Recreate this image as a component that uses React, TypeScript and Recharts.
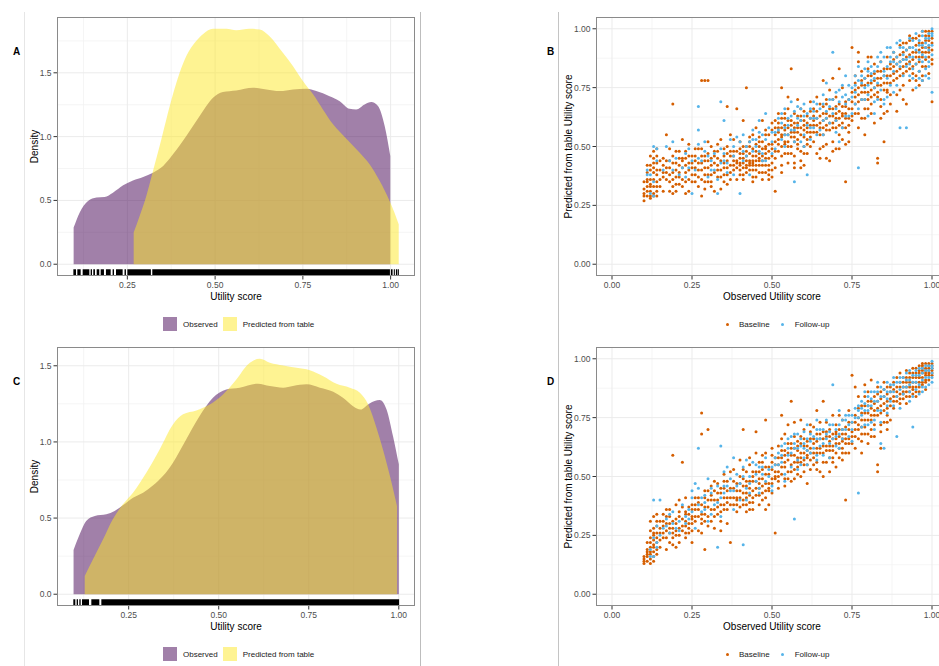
import React from 'react';
import { ComposedChart, ScatterChart, Area, Scatter, XAxis, YAxis, CartesianGrid, ReferenceArea } from 'recharts';

const FONT = '"Liberation Sans", Arial, Helvetica, sans-serif';

const PURPLE = '#440154';
const YELLOW = '#FDE725';
const ORANGE = '#D55E00';
const BLUE = '#56B4E9';

const obsA: [number, number][] = [[0.097,0.287],[0.114,0.404],[0.138,0.496],[0.162,0.522],[0.185,0.527],[0.209,0.561],[0.238,0.618],[0.266,0.657],[0.295,0.684],[0.323,0.717],[0.352,0.77],[0.38,0.861],[0.418,1.004],[0.456,1.161],[0.494,1.304],[0.522,1.349],[0.56,1.362],[0.608,1.383],[0.646,1.37],[0.684,1.357],[0.722,1.37],[0.76,1.375],[0.788,1.357],[0.826,1.317],[0.855,1.278],[0.883,1.218],[0.902,1.213],[0.926,1.252],[0.945,1.271],[0.964,1.239],[0.983,1.083],[0.999,0.848]];
const predA: [number, number][] = [[0.268,0.248],[0.285,0.378],[0.304,0.535],[0.323,0.73],[0.342,0.926],[0.361,1.135],[0.38,1.331],[0.399,1.5],[0.418,1.631],[0.442,1.735],[0.466,1.805],[0.494,1.845],[0.532,1.845],[0.56,1.834],[0.598,1.845],[0.627,1.839],[0.655,1.787],[0.693,1.657],[0.722,1.552],[0.75,1.435],[0.779,1.331],[0.807,1.213],[0.836,1.096],[0.874,0.984],[0.912,0.874],[0.94,0.783],[0.969,0.652],[0.997,0.496],[1.011,0.404],[1.023,0.313]];
const obsC: [number, number][] = [[0.097,0.291],[0.114,0.394],[0.132,0.481],[0.156,0.514],[0.188,0.525],[0.211,0.547],[0.234,0.584],[0.262,0.634],[0.29,0.667],[0.318,0.715],[0.345,0.776],[0.373,0.864],[0.41,1.017],[0.447,1.17],[0.484,1.29],[0.521,1.345],[0.558,1.356],[0.609,1.382],[0.642,1.367],[0.679,1.356],[0.706,1.367],[0.744,1.378],[0.781,1.356],[0.818,1.329],[0.845,1.29],[0.873,1.235],[0.894,1.213],[0.919,1.253],[0.947,1.275],[0.966,1.213],[0.984,1.038],[1.0,0.853]];
const predC: [number, number][] = [[0.128,0.12],[0.151,0.23],[0.179,0.361],[0.206,0.492],[0.234,0.59],[0.262,0.667],[0.299,0.798],[0.336,0.951],[0.373,1.115],[0.401,1.181],[0.438,1.207],[0.475,1.246],[0.512,1.312],[0.549,1.41],[0.581,1.509],[0.614,1.546],[0.642,1.52],[0.679,1.502],[0.716,1.487],[0.753,1.471],[0.79,1.432],[0.827,1.382],[0.864,1.356],[0.892,1.323],[0.915,1.246],[0.938,1.093],[0.961,0.907],[0.98,0.732],[0.995,0.579]];

// black runs of the rug along the bottom [from, to]
const rugA: [number, number][] = [[0.0962,0.1037],[0.1075,0.117],[0.1227,0.1417],[0.1455,0.1493],[0.153,0.1578],[0.1626,0.17],[0.174,0.1834],[0.189,0.2025],[0.208,0.212],[0.2176,0.2366],[0.242,0.246],[0.25,0.317],[0.321,0.998],[1.0007,1.0055],[1.009,1.012],[1.015,1.019],[1.0205,1.0234]];
const rugC: [number, number][] = [[0.0963,0.1019],[0.1056,0.1093],[0.113,0.1167],[0.1204,0.1398],[0.1463,0.1685],[0.1741,1.0009]];

// scatter points, observed vs predicted, in hundredths
const baseB: number[][] = [
[10,27],[10,30],[10,29],[11,29],[11,31],[12,29],[12,28],[13,29],[13,30],[14,29],[11,36],[12,34],[13,33],[13,36],[14,35],[11,39],[13,39],[13,41],[14,43],[13,45],[14,46],[13,48],[14,49],[12,36],[15,36],[15,33],[14,38],[12,42],[11,35],[14,31],
[16,39],[17,36],[17,41],[18,38],[18,44],[17,55],[19,68],[19,30],[20,34],[20,40],[21,42],[21,37],[22,45],[22,33],[23,39],[23,48],[24,36],[24,43],[25,41],[25,46],[22,53],[18,49],[19,46],[16,31],[20,31],[23,30],[25,35],[24,51],[21,48],[16,45],[19,36],[22,41],[24,31],[15,40],
[26,38],[26,44],[27,40],[27,49],[28,29],[28,36],[28,78],[29,78],[30,78],[29,41],[29,46],[30,38],[30,52],[31,35],[31,42],[32,48],[32,31],[33,40],[33,45],[34,37],[34,53],[35,43],[35,49],[36,34],[36,41],[37,46],[37,39],[37,55],[36,67],[33,51],[30,44],[27,33],[28,46],[31,50],[35,38],[34,32],[29,35],[32,43],[26,49],[36,47],
[38,42],[38,48],[39,36],[39,44],[40,40],[40,47],[40,52],[41,38],[41,43],[41,45],[42,42],[42,48],[42,75],[43,40],[43,44],[43,50],[44,37],[44,46],[44,55],[45,42],[45,48],[45,58],[46,39],[46,45],[46,52],[47,44],[47,49],[47,36],[48,42],[48,47],[48,55],[49,38],[49,45],[49,51],[50,43],[50,49],[50,57],[39,66],[41,61],[44,35],[47,61],[49,36],[50,37],[42,39],[46,42],[43,54],[40,43],[45,46],[48,50],[38,53],[44,43],
[51,31],[51,45],[51,52],[52,48],[52,56],[52,60],[53,42],[53,50],[53,58],[54,55],[54,62],[54,47],[55,52],[55,58],[55,66],[56,50],[56,54],[56,83],[57,56],[57,60],[57,46],[58,53],[58,58],[58,63],[59,44],[59,55],[59,61],[60,50],[60,57],[60,65],[61,53],[61,60],[61,47],[62,56],[62,62],[62,69],[53,75],[55,71],[58,70],[52,64],[54,51],[56,59],[57,43],[59,66],[60,42],[61,56],[53,54],[55,47],[57,52],[62,50],[51,58],[52,51],[58,49],[60,61],[54,59],
[63,52],[63,59],[63,66],[64,47],[64,56],[64,62],[65,55],[65,60],[65,68],[66,50],[66,58],[66,64],[67,62],[67,70],[67,45],[68,57],[68,63],[68,74],[69,60],[69,66],[69,52],[70,58],[70,64],[70,71],[71,55],[71,62],[71,68],[72,60],[72,67],[72,75],[73,35],[73,58],[73,64],[74,62],[74,70],[74,56],[75,66],[75,73],[75,61],[66,78],[68,44],[70,49],[72,53],[64,71],[69,79],[71,83],[65,49],[67,57],[73,69],[74,52],[63,63],[70,67],[72,63],
[76,68],[76,74],[76,80],[77,64],[77,72],[77,86],[78,70],[78,76],[78,62],[79,73],[79,79],[79,66],[80,70],[80,77],[80,83],[81,74],[81,68],[81,80],[82,72],[82,78],[82,60],[83,76],[83,82],[83,43],[83,45],[84,70],[84,79],[84,86],[85,74],[85,80],[85,64],[86,77],[86,83],[86,88],[87,72],[87,80],[87,68],[75,92],[77,58],[79,55],[81,88],[84,62],[80,66],[78,82],[82,85],[85,52],[87,85],[76,64],[83,71],[86,73],
[88,78],[88,84],[88,90],[89,72],[89,82],[89,88],[90,80],[90,86],[90,93],[91,76],[91,84],[91,90],[92,82],[92,88],[92,94],[93,78],[93,86],[93,92],[94,84],[94,90],[94,96],[95,80],[95,88],[95,93],[96,86],[96,91],[96,97],[96,82],[97,88],[97,94],[97,99],[97,78],[98,90],[98,95],[98,99],[98,84],[99,92],[99,97],[99,88],[100,94],[100,99],[100,69],[100,87],[92,68],[94,74],[96,76],[89,65],[91,70],[99,81],[95,85],[97,92],[98,97],[93,89],[100,91],[99,95],[90,74],
[10,32],[11,33],[12,31],[12,40],[11,42],[14,40],[13,43],[12,46],[15,44],[14,33],[10,35],[12,33],
[16,37],[17,39],[17,44],[18,41],[18,35],[19,39],[19,43],[20,37],[20,43],[21,34],[21,39],[22,36],[22,44],[23,42],[23,35],[24,40],[24,46],[25,38],[25,43],[16,42],[18,31],[20,48],[21,45],[23,45],[19,33],
[26,41],[26,35],[27,43],[27,37],[28,40],[28,43],[29,38],[29,44],[30,41],[30,35],[30,47],[31,38],[31,45],[32,39],[32,46],[33,42],[33,37],[34,44],[34,40],[35,41],[35,46],[36,38],[36,44],[36,50],[37,42],[37,48],[31,33],[33,48],[28,49],[26,46],[29,32],[35,35],[37,36],
[38,40],[38,44],[38,46],[39,41],[39,43],[39,48],[40,42],[40,45],[40,49],[41,41],[41,47],[41,50],[42,41],[42,44],[42,46],[43,42],[43,47],[43,43],[44,40],[44,44],[44,49],[45,40],[45,44],[45,51],[46,44],[46,47],[46,50],[47,42],[47,46],[47,52],[48,45],[48,49],[48,39],[49,42],[49,48],[49,55],[50,46],[50,51],[50,40],[44,42],[42,50],[46,54],[48,57],[50,60],[40,38],[43,52],[45,37],[47,39],[49,40],[41,36],
[51,48],[51,55],[51,61],[52,53],[52,58],[53,46],[53,55],[53,62],[54,52],[54,57],[54,64],[55,50],[55,55],[55,61],[56,56],[56,61],[56,47],[57,54],[57,58],[57,64],[58,51],[58,56],[58,60],[59,58],[59,63],[59,48],[60,54],[60,59],[60,47],[61,58],[61,63],[61,51],[62,54],[62,59],[62,65],[51,41],[53,39],[55,43],[57,41],[59,41],
[63,56],[63,61],[64,59],[64,65],[65,58],[65,63],[66,55],[66,61],[66,67],[67,59],[67,64],[67,68],[68,60],[68,66],[69,58],[69,63],[69,70],[70,61],[70,62],[71,59],[71,65],[72,58],[72,64],[73,62],[73,67],[74,59],[74,66],[75,63],[75,69],[65,45],[67,51],[71,49],[73,51],[69,48],
[76,71],[76,77],[77,69],[77,75],[78,73],[78,78],[79,70],[79,76],[80,73],[80,80],[81,71],[81,77],[82,75],[82,81],[83,73],[83,79],[84,76],[84,82],[85,77],[85,83],[86,74],[86,80],[87,77],[87,83],[79,62],[81,64],[84,67],[86,65],[77,90],[80,88],
[88,81],[88,87],[89,79],[89,85],[90,83],[90,89],[91,81],[91,87],[92,85],[92,91],[93,83],[93,95],[94,87],[94,81],[95,90],[95,96],[96,88],[96,94],[97,90],[97,84],[98,92],[98,87],[99,90],[99,99],[100,96],[100,85],[91,94],[93,97],[95,78],[97,80]];
const followB: number[][] = [
[12,30],[13,29],[12,38],[14,49],[13,50],[11,38],[17,50],[19,52],[18,44],[22,41],[24,49],[25,30],[23,37],[20,45],[25,44],
[27,67],[27,57],[27,45],[29,48],[30,37],[31,44],[33,36],[34,69],[35,61],[35,47],[36,43],[33,30],[37,53],[32,40],[29,52],[34,49],
[38,50],[40,30],[41,55],[42,46],[43,52],[44,57],[45,50],[46,61],[47,44],[48,53],[49,58],[50,47],[39,54],[43,38],[46,56],[48,64],[41,48],[45,53],[50,52],[47,47],
[51,56],[52,62],[53,53],[54,66],[55,59],[56,63],[57,35],[57,57],[58,67],[59,61],[60,55],[61,38],[61,64],[62,58],[53,60],[55,55],[58,59],[60,68],[62,53],[56,69],[54,50],[59,52],
[63,62],[64,68],[65,57],[66,72],[67,65],[68,60],[69,90],[69,70],[70,66],[71,74],[72,58],[73,68],[74,76],[75,64],[75,71],[64,55],[66,61],[68,67],[70,56],[72,71],[74,63],[67,77],[71,52],[63,69],[73,80],
[76,73],[76,80],[77,41],[77,66],[78,77],[79,83],[80,72],[80,86],[81,78],[82,64],[82,82],[83,88],[84,74],[84,90],[85,68],[85,82],[86,79],[86,92],[87,76],[87,86],[78,70],[80,63],[81,84],[83,70],[85,88],[79,75],[83,77],[86,71],[77,84],[82,75],
[88,82],[88,90],[89,76],[89,94],[90,58],[90,86],[91,80],[91,92],[92,58],[92,84],[93,88],[93,96],[94,79],[94,92],[95,85],[95,98],[96,82],[96,90],[96,95],[97,86],[97,93],[97,99],[98,80],[98,88],[98,96],[99,91],[99,98],[99,84],[100,93],[100,97],[100,73],[100,89],[95,75],[97,78],[98,83],[93,80],[91,87],[94,95],[99,86],[100,100],[89,85],[92,91],[96,87],[90,95],[98,92],
[11,40],[13,35],[14,44],[16,40],[21,38],[23,47],[26,40],[28,44],[30,46],[32,47],[34,43],[36,39],[38,46],[40,52],[42,50],[44,48],[46,48],[48,44],[50,56],[51,49],[52,57],[53,64],[54,58],[55,62],[56,57],[57,65],[58,62],[59,66],[60,63],[61,59],[62,62],[62,66],[63,65],[64,62],[65,66],[66,68],[67,62],[68,70],[69,64],[70,73],[71,69],[72,76],[73,72],[74,70],[75,75],[76,76],[77,78],[78,80],[79,79],[80,76],[80,82],[81,81],[82,79],[83,84],[84,86],[85,80],[86,84],[87,88],[88,86],[89,88],[90,84],[91,89],[92,87],[93,92],[94,88],[95,91],[96,93],[97,89],[98,94],[99,96],[100,98],[94,83],[96,79],[99,79],[88,73],[85,70],[82,69],[79,70],[76,68],[73,63],[70,61],[66,55],[63,58],[60,50],[57,52],[54,55],[47,55],[44,53],[41,44],[38,38],[35,44],[31,40],[27,51],[24,41],[19,40],[87,92],[90,92],[93,85],[97,97],[99,93]];
const baseD: number[][] = [
[10,13],[10,16],[10,15],[11,16],[11,14],[12,15],[12,17],[13,16],[13,14],[13,18],[14,17],[12,20],[13,21],[11,19],[13,23],[14,26],[13,26],[12,24],[14,22],[13,28],[14,29],[13,33],[12,31],[14,34],[15,26],[15,20],[14,19],[11,22],[12,27],[15,31],
[16,24],[16,29],[17,19],[17,27],[17,33],[18,22],[18,30],[18,36],[19,24],[19,28],[19,59],[20,20],[20,32],[20,27],[21,25],[21,35],[22,29],[22,56],[22,37],[23,26],[23,31],[23,41],[24,28],[24,34],[25,30],[25,38],[25,22],[21,40],[18,26],[24,37],[16,34],[20,38],[23,34],[25,33],
[26,33],[26,41],[27,27],[27,36],[28,30],[28,77],[28,68],[28,38],[29,19],[29,34],[29,44],[30,70],[30,29],[30,37],[31,40],[31,31],[32,36],[32,44],[33,34],[33,40],[33,47],[34,38],[34,43],[35,36],[35,45],[35,51],[36,39],[36,48],[36,30],[37,41],[37,52],[37,22],[31,46],[27,39],[34,31],[32,28],[29,41],[26,36],[35,41],[36,44],
[38,38],[38,45],[38,53],[39,35],[39,41],[40,44],[40,50],[40,37],[41,40],[41,46],[41,70],[42,38],[42,43],[42,52],[43,39],[43,45],[43,55],[44,41],[44,48],[44,36],[45,45],[45,52],[45,60],[46,42],[46,49],[46,56],[47,46],[47,53],[47,40],[48,44],[48,51],[48,60],[49,47],[49,54],[49,38],[50,49],[50,56],[50,62],[45,69],[48,74],[43,36],[47,59],[49,44],[40,57],[42,48],[44,52],[46,38],[50,43],[39,47],[41,53],[48,36],
[51,26],[51,52],[51,58],[52,48],[52,55],[52,63],[53,51],[53,58],[53,66],[54,54],[54,61],[54,46],[55,57],[55,64],[55,72],[56,52],[56,59],[56,82],[57,56],[57,62],[57,49],[58,58],[58,65],[58,54],[59,60],[59,67],[59,50],[60,57],[60,63],[60,70],[61,55],[61,61],[61,47],[62,60],[62,66],[62,53],[53,76],[57,73],[59,74],[54,68],[56,64],[58,61],[60,52],[62,72],[52,52],[55,49],[57,67],[61,65],[51,49],[59,56],[61,58],
[63,58],[63,64],[63,71],[64,56],[64,62],[64,68],[65,60],[65,66],[65,52],[66,63],[66,69],[66,50],[67,61],[67,67],[67,73],[68,58],[68,65],[68,70],[69,63],[69,68],[69,56],[70,66],[70,72],[70,60],[71,64],[71,70],[71,76],[72,62],[72,68],[72,74],[73,40],[73,66],[73,71],[74,64],[74,70],[74,78],[75,67],[75,73],[75,93],[64,78],[66,82],[68,52],[70,54],[72,57],[73,60],[67,56],[69,76],[71,58],[74,60],[65,73],[63,55],[70,69],[72,65],[68,61],
[76,70],[76,76],[76,62],[77,72],[77,79],[77,66],[78,74],[78,80],[78,68],[79,71],[79,77],[79,84],[80,74],[80,80],[80,68],[81,76],[81,82],[81,70],[82,78],[82,84],[82,72],[83,52],[83,55],[83,76],[83,82],[84,80],[84,86],[84,72],[85,78],[85,84],[85,90],[86,82],[86,88],[86,76],[87,80],[87,86],[76,88],[78,60],[80,64],[82,67],[84,62],[86,70],[87,74],[79,89],[81,91],[85,73],[77,84],[83,88],[80,86],[78,65],
[88,84],[88,90],[88,79],[89,86],[89,92],[89,82],[90,85],[90,90],[90,94],[91,88],[91,92],[91,83],[92,86],[92,90],[92,95],[93,88],[93,92],[93,84],[94,90],[94,94],[94,96],[95,88],[95,92],[95,96],[96,90],[96,94],[96,97],[96,86],[97,92],[97,95],[97,98],[97,89],[98,93],[98,96],[98,98],[98,90],[99,94],[99,97],[99,91],[100,96],[100,98],[100,93],[90,81],[92,81],[95,84],[98,87],[94,87],[96,92],[99,95],[97,96],[93,90],[91,86],[100,95],[95,94],
[10,14],[11,18],[12,22],[12,18],[13,20],[13,25],[14,24],[14,31],[15,23],[15,28],[11,17],[12,13],
[16,26],[16,31],[17,24],[17,30],[18,28],[18,33],[19,26],[19,31],[20,25],[20,30],[21,28],[21,33],[22,27],[22,32],[23,29],[23,35],[24,30],[24,26],[25,32],[25,36],[17,36],[19,21],[21,22],[23,24],[25,27],
[26,31],[26,38],[27,33],[27,41],[28,34],[28,32],[29,31],[29,37],[30,33],[30,40],[31,36],[31,42],[32,33],[32,40],[33,37],[33,43],[34,35],[34,45],[35,38],[35,48],[36,41],[36,36],[37,38],[37,45],[30,44],[32,48],[28,26],[34,27],
[38,41],[38,48],[39,38],[39,44],[40,41],[40,47],[41,43],[41,49],[42,41],[42,46],[43,42],[43,48],[44,44],[44,50],[45,42],[45,48],[46,45],[46,52],[47,43],[47,49],[48,47],[48,54],[49,45],[49,51],[50,47],[50,53],[39,40],[42,35],[44,39],[46,47],[48,41],[50,59],[41,38],[47,56],[43,58],
[51,50],[51,55],[52,50],[52,58],[53,54],[53,61],[54,56],[54,59],[55,52],[55,60],[56,55],[56,62],[57,59],[57,53],[58,56],[58,63],[59,58],[59,64],[60,55],[60,60],[61,59],[61,63],[62,57],[62,62],[52,45],[54,49],[56,48],[58,51],[60,66],[62,69],
[63,60],[63,66],[64,60],[64,65],[65,62],[65,68],[66,60],[66,66],[67,63],[67,69],[68,63],[68,67],[69,61],[69,66],[70,64],[70,68],[71,62],[71,67],[72,66],[72,70],[73,64],[73,68],[74,66],[74,73],[75,69],[75,64],[66,56],[69,58],[72,60],[64,53],
[76,73],[76,67],[77,70],[77,75],[78,71],[78,77],[79,74],[79,80],[80,77],[80,82],[81,74],[81,79],[82,76],[82,81],[83,79],[83,85],[84,77],[84,83],[85,81],[85,87],[86,79],[86,85],[87,83],[87,88],[79,68],[81,67],[84,69],[86,73],
[88,82],[88,87],[89,84],[89,88],[90,83],[90,88],[91,85],[91,90],[92,84],[92,88],[93,86],[93,94],[94,88],[94,92],[95,86],[95,90],[96,88],[96,92],[97,90],[97,94],[98,91],[98,95],[99,93],[99,96],[100,94],[100,97],[92,92],[94,85],[96,95],[98,94],[97,97],[99,98]];
const followD: number[][] = [
[13,16],[12,19],[13,24],[14,20],[13,40],[15,40],[14,29],[17,32],[18,26],[19,35],[20,28],[21,31],[22,38],[23,30],[24,36],[25,41],[25,44],[24,32],[18,34],[16,28],
[26,47],[27,62],[27,45],[28,41],[29,36],[30,49],[31,43],[32,38],[33,20],[33,46],[34,41],[34,63],[35,52],[36,46],[37,49],[31,34],[29,39],[36,54],[28,35],[35,43],
[38,44],[39,51],[40,47],[41,21],[41,54],[42,45],[43,50],[44,56],[45,48],[46,54],[47,51],[48,58],[49,50],[50,54],[40,40],[43,43],[46,45],[48,48],[50,46],[42,57],[45,55],[38,58],
[51,55],[52,60],[53,56],[54,64],[55,59],[56,54],[57,32],[57,62],[58,68],[59,63],[60,58],[61,66],[62,60],[53,63],[55,66],[58,57],[60,62],[62,68],[54,51],[56,67],[59,55],[61,72],
[63,62],[64,66],[65,70],[66,64],[67,68],[68,72],[69,89],[69,66],[70,70],[71,68],[72,74],[73,70],[74,72],[75,76],[64,59],[66,59],[68,64],[70,63],[72,66],[74,67],[67,74],[71,78],[73,76],[65,63],[75,70],
[76,79],[77,43],[77,75],[78,82],[79,78],[80,84],[80,78],[81,80],[82,86],[82,74],[83,82],[84,88],[84,78],[85,84],[86,86],[86,80],[87,89],[87,82],[78,76],[80,72],[82,70],[84,64],[85,62],[79,72],[81,86],[83,78],[86,90],[77,80],
[88,86],[88,92],[89,67],[89,84],[90,90],[90,87],[91,92],[92,88],[92,94],[93,86],[93,95],[94,71],[94,90],[95,93],[95,87],[96,96],[96,89],[97,94],[97,91],[98,97],[98,92],[99,95],[99,89],[100,97],[100,99],[100,92],[91,85],[94,84],[96,85],[98,88],[97,86],[99,92],[93,91],[100,94],[95,90],
[12,16],[14,22],[15,25],[17,29],[19,30],[21,27],[23,33],[25,35],[27,38],[29,42],[31,45],[33,39],[35,46],[37,44],[39,46],[41,50],[43,47],[45,51],[47,54],[49,53],[51,58],[52,55],[53,59],[55,62],[56,60],[57,64],[58,62],[59,66],[60,64],[61,61],[62,65],[63,67],[64,70],[65,66],[66,70],[67,66],[68,69],[69,72],[70,67],[71,72],[72,70],[73,74],[74,76],[75,73],[76,75],[77,78],[78,79],[79,81],[80,80],[81,83],[82,82],[83,86],[84,84],[85,87],[86,83],[87,86],[88,89],[89,90],[90,92],[91,88],[92,91],[93,89],[94,93],[95,95],[96,93],[97,96],[98,95],[99,97],[100,96],[88,80],[90,79],[86,77],[84,73],[81,73],[78,71],[75,65],[71,62],[68,58],[64,57],[61,55],[58,53],[54,48],[50,44],[46,43],[42,40],[38,36],[34,33],[30,31],[26,28],[60,69],[64,74],[57,68],[79,86],[83,90],[93,82],[97,88],[100,90]];

const densX = [0.25, 0.5, 0.75, 1];
const densXMinor = [0.125, 0.375, 0.625, 0.875];
const densY = [0, 0.5, 1, 1.5];
const densYMinorA = [0.25, 0.75, 1.25, 1.75];
const densYMinorC = [0.25, 0.75, 1.25];
const scatTicks = [0, 0.25, 0.5, 0.75, 1];
const scatMinor = [0.125, 0.375, 0.625, 0.875];

function mergeDensity(obs: [number, number][], pred: [number, number][]) {
  const xs = Array.from(new Set([...obs.map(p => p[0]), ...pred.map(p => p[0])])).sort((a, b) => a - b);
  const o = new Map(obs);
  const p = new Map(pred);
  return xs.map(x => ({ x, obs: o.get(x), pred: p.get(x) }));
}

const toPts = (arr: number[][]) => arr.map(([x, y]) => ({ x: x / 100, y: y / 100 }));

const tickStyle = { fontSize: 8.5, fill: '#4D4D4D' };
const titleStyle = { fontSize: 10, fill: '#000' };

function DensityPanel({ obs, pred, rug, xDomain, yDomain, yMinor, top }: any) {
  const data = mergeDensity(obs, pred);
  const rugTop = yDomain[0] + 0.026 * (yDomain[1] - yDomain[0]);
  return (
    <div style={{ position: 'absolute', left: 0, top, width: 420, height: 310 }}>
      <ComposedChart width={420} height={310} data={data} margin={{ top: 17, right: 5, left: 0, bottom: 0 }}>
        <CartesianGrid horizontalValues={yMinor} verticalValues={densXMinor} stroke="#F2F2F2" strokeWidth={0.8} />
        <CartesianGrid horizontalValues={densY} verticalValues={densX} stroke="#EBEBEB" strokeWidth={1} />
        <XAxis type="number" dataKey="x" domain={xDomain} allowDataOverflow ticks={densX} tickFormatter={(v: number) => v.toFixed(2)}
          height={34} axisLine={false} tick={tickStyle} tickLine={{ stroke: '#333' }} tickSize={3.5} tickMargin={2}
          label={{ value: 'Utility score', position: 'insideBottom', offset: 10, ...titleStyle }} />
        <YAxis type="number" domain={yDomain} allowDataOverflow ticks={densY} tickFormatter={(v: number) => v.toFixed(1)}
          width={57} axisLine={false} tick={tickStyle} tickLine={{ stroke: '#333' }} tickSize={3.5} tickMargin={2}
          label={{ value: 'Density', angle: -90, position: 'insideLeft', offset: 34, style: { textAnchor: 'middle' }, ...titleStyle }} />
        <Area dataKey="obs" type="monotone" fill={PURPLE} fillOpacity={0.5} stroke="none" connectNulls baseValue={0} isAnimationActive={false} />
        <Area dataKey="pred" type="monotone" fill={YELLOW} fillOpacity={0.5} stroke="none" connectNulls baseValue={0} isAnimationActive={false} />
        {rug.map(([a, b]: [number, number], i: number) => (
          <ReferenceArea key={i} x1={a} x2={b} y1={yDomain[0]} y2={rugTop} fill="#000" fillOpacity={1} stroke="none" ifOverflow="visible" />
        ))}
      </ComposedChart>
      <div style={{ position: 'absolute', left: 57, top: 17, width: 358, height: 259, border: '1px solid #8A8A8A', boxSizing: 'border-box', pointerEvents: 'none' }} />
      <div style={{ position: 'absolute', left: 163, top: 317, display: 'flex', alignItems: 'center', fontSize: 8, color: '#1A1A1A' }}>
        <div style={{ width: 14, height: 14, background: PURPLE, opacity: 0.5 }} />
        <span style={{ marginLeft: 6, marginRight: 5 }}>Observed</span>
        <div style={{ width: 14, height: 14, background: YELLOW, opacity: 0.5 }} />
        <span style={{ marginLeft: 6 }}>Predicted from table</span>
      </div>
    </div>
  );
}

const dot = (color: string) => (props: any) => <circle cx={props.cx} cy={props.cy} r={1.5} fill={color} />;

function ScatterPanel({ base, follow, top }: any) {
  return (
    <div style={{ position: 'absolute', left: 420, top, width: 560, height: 310 }}>
      <ScatterChart width={560} height={310} margin={{ top: 17, right: 32, left: 0, bottom: 0 }}>
        <CartesianGrid horizontalValues={scatMinor} verticalValues={scatMinor} stroke="#F2F2F2" strokeWidth={0.8} />
        <CartesianGrid horizontalValues={scatTicks} verticalValues={scatTicks} stroke="#EBEBEB" strokeWidth={1} />
        <XAxis type="number" dataKey="x" domain={[-0.05, 1.05]} allowDataOverflow ticks={scatTicks} tickFormatter={(v: number) => v.toFixed(2)}
          height={34} axisLine={false} tick={tickStyle} tickLine={{ stroke: '#333' }} tickSize={3.5} tickMargin={2}
          label={{ value: 'Observed Utility score', position: 'insideBottom', offset: 10, ...titleStyle }} />
        <YAxis type="number" dataKey="y" domain={[-0.05, 1.05]} allowDataOverflow ticks={scatTicks} tickFormatter={(v: number) => v.toFixed(2)}
          width={176} axisLine={false} tick={tickStyle} tickLine={{ stroke: '#333' }} tickSize={3.5} tickMargin={2}
          label={{ value: 'Predicted from table Utility score', angle: -90, position: 'insideLeft', offset: 148, style: { textAnchor: 'middle' }, ...titleStyle }} />
        <Scatter data={toPts(base)} fill={ORANGE} shape={dot(ORANGE)} isAnimationActive={false} />
        <Scatter data={toPts(follow)} fill={BLUE} shape={dot(BLUE)} isAnimationActive={false} />
      </ScatterChart>
      <div style={{ position: 'absolute', left: 176, top: 17, width: 352, height: 259, border: '1px solid #8A8A8A', boxSizing: 'border-box', pointerEvents: 'none' }} />
      <div style={{ position: 'absolute', left: 300, top: 317, display: 'flex', alignItems: 'center', fontSize: 8, color: '#1A1A1A', height: 14 }}>
        <div style={{ width: 14, display: 'flex', justifyContent: 'center' }}><div style={{ width: 3, height: 3, borderRadius: 2, background: ORANGE }} /></div>
        <span style={{ marginLeft: 5, marginRight: 6 }}>Baseline</span>
        <div style={{ width: 14, display: 'flex', justifyContent: 'center' }}><div style={{ width: 3, height: 3, borderRadius: 2, background: BLUE }} /></div>
        <span style={{ marginLeft: 5 }}>Follow-up</span>
      </div>
    </div>
  );
}

const tagStyle: React.CSSProperties = { position: 'absolute', fontSize: 10, fontWeight: 'bold', color: '#000' };
const divider = (x: number, color: string): React.CSSProperties => ({ position: 'absolute', left: x, top: 12, width: 1, height: 654, background: color });

export default function App() {
  return (
    <div style={{ position: 'absolute', left: 0, top: 0, width: 939, height: 666, overflow: 'hidden', background: '#fff', fontFamily: FONT }}>
      <div style={divider(24, '#E6E6E6')} />
      <div style={divider(420, '#BDBDBD')} />
      <div style={divider(558, '#C4C4C4')} />
      <DensityPanel obs={obsA} pred={predA} rug={rugA} xDomain={[0.0496, 1.0694]} yDomain={[-0.0923, 1.9373]} yMinor={densYMinorA} top={0} />
      <DensityPanel obs={obsC} pred={predC} rug={rugC} xDomain={[0.051, 1.045]} yDomain={[-0.0773, 1.6233]} yMinor={densYMinorC} top={330} />
      <ScatterPanel base={baseB} follow={followB} top={0} />
      <ScatterPanel base={baseD} follow={followD} top={330} />
      <div style={{ ...tagStyle, left: 13, top: 46 }}>A</div>
      <div style={{ ...tagStyle, left: 547, top: 46 }}>B</div>
      <div style={{ ...tagStyle, left: 13, top: 376 }}>C</div>
      <div style={{ ...tagStyle, left: 547, top: 376 }}>D</div>
    </div>
  );
}
